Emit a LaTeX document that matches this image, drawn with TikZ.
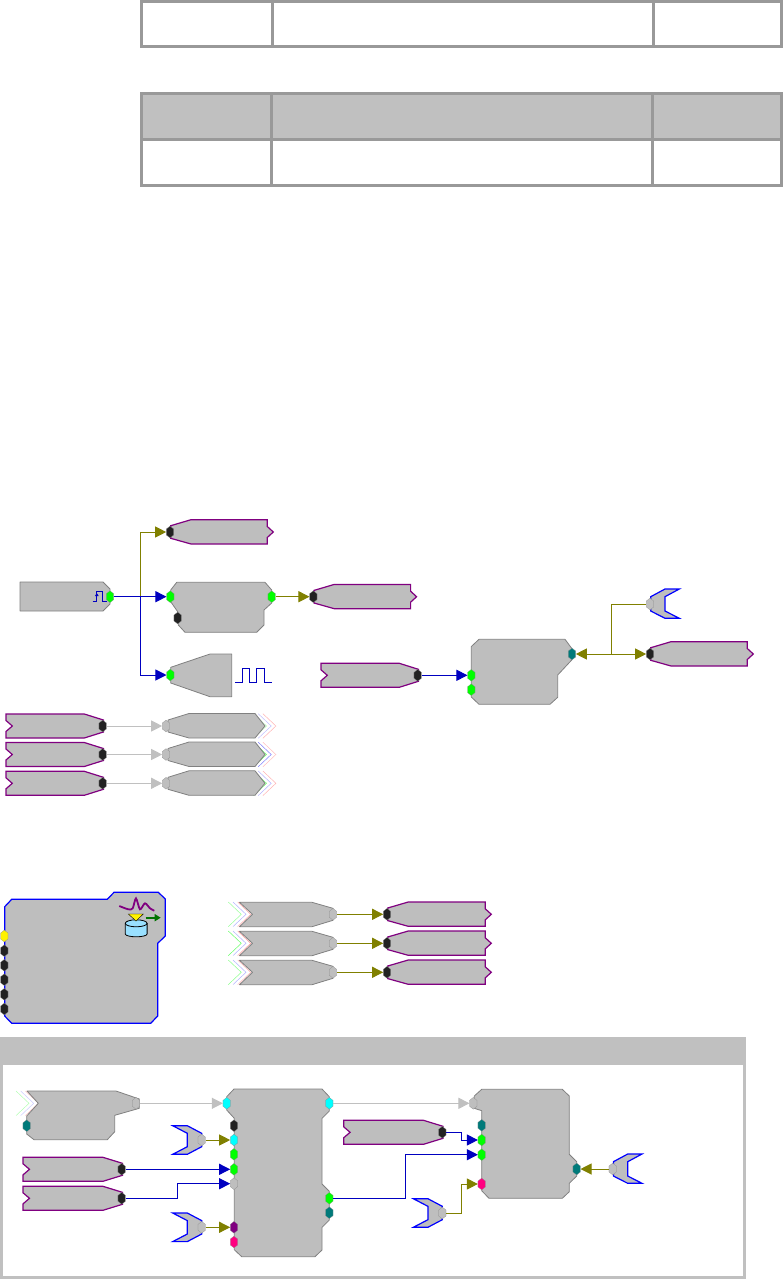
\documentclass[tikz,border=0pt]{standalone}
\usetikzlibrary{arrows.meta,shapes.geometric}
\definecolor{blockgray}{HTML}{BEBEBE}
\definecolor{rulegray}{HTML}{999999}
\definecolor{linegray}{HTML}{C0C0C0}
\definecolor{wireblue}{HTML}{0000C0}
\definecolor{wireolive}{HTML}{808000}
\definecolor{tagpurple}{HTML}{800080}
\definecolor{portblack}{HTML}{222222}
\definecolor{portteal}{HTML}{007A7A}
\definecolor{portpink}{HTML}{FF0080}
\definecolor{portcyan}{HTML}{00FFFF}
\definecolor{portgreen}{HTML}{00FF00}
\definecolor{hopblue}{HTML}{0000FF}
\begin{document}
\begin{tikzpicture}[x=1pt,y=-1pt]
    \tikzset{block/.style = {draw=black!50,fill=blockgray,line width=.8pt,line join=round},
      tagblock/.style = {draw=tagpurple,fill=blockgray,line width=1.2pt},
      hopblock/.style = {draw=hopblue,fill=blockgray,line width=1.2pt},
      cell/.style = {draw=rulegray,line width=3pt},
      port/.style = {shape = regular polygon,regular polygon sides=6,shape border rotate=90,minimum size = 10.5pt,inner sep = 0pt,xscale=.82,yscale=1.12,transform shape,draw=black!45,line width=.2pt},
      pgreen/.style = {port,fill=portgreen},
      pblack/.style = {port,fill=portblack},
      pgray/.style = {port,fill=blockgray},
      pteal/.style = {port,fill=portteal},
      pcyan/.style = {port,fill=portcyan},
      ppink/.style = {port,fill=portpink},
      wb/.style = {wireblue,line width=1pt,-{Triangle[length=11pt,width=11pt]}},
      wo/.style = {wireolive,line width=1pt,-{Triangle[length=11pt,width=11pt]}},
      wg/.style = {linegray,line width=1pt,-{Triangle[length=11pt,width=11pt]}},
      pics/tagout/.style = {code = {\draw[tagblock] (.7,-6.3) -- (21,-12.3) -- (97.3,-12.3) -- (97.3,-5.5) -- (103.3,0) -- (97.3,5.5) -- (97.3,12) -- (21,12) -- (.7,6.3) -- cycle;}},
      pics/tagin/.style = {code = {\draw[tagblock] (.7,-6) -- (-18.4,-12) -- (-96.7,-12) -- (-96.7,-5.5) -- (-90.4,0) -- (-96.7,5.5) -- (-96.7,12) -- (-18.4,12) -- (.7,6) -- cycle;}},
      pics/hopright/.style = {code = {\draw[hopblock] (.7,-7.3) -- (15,-15) -- (29.3,-15) -- (15,-7.3) -- (15,7) -- (29.3,14.3) -- (15,14.3) -- (.7,7) -- cycle;}},
      pics/hopleft/.style = {code = {\draw[hopblock] (0,-6.7) -- (-14.4,-14.3) -- (-29,-14.3) -- (-14.4,-6.7) -- (-14.4,6.7) -- (-29,14.3) -- (-14.4,14.3) -- (0,6.7) -- cycle;}},
      pics/storeout/.style = {code = {\draw[block] (2,-6) -- (23,-12.5) -- (89,-12.5) -- (99,0) -- (89,12) -- (23,12) -- (2,6) -- cycle;}},
      pics/storein/.style = {code = {\draw[block] (-93.5,-12) -- (-21,-12) -- (0,-6) -- (0,6) -- (-21,12.4) -- (-93.5,12.4) -- (-80.5,0) -- cycle;}},
      pics/chev/.style n args = {3}{code = {
        \draw[#1,line width=.5pt] (0,-12.3) -- (13,0) -- (0,12.3);
        \draw[#2,line width=.5pt] (4.7,-12.3) -- (17.7,0) -- (4.7,12.3);
        \draw[#3,line width=.5pt] (9.4,-12.3) -- (22.4,0) -- (9.4,12.3);}}}
    \useasboundingbox (0,0) rectangle (783,1279);
    % tables
    \draw[cell] (141.7,1.5) rectangle (781,46.8);
    \draw[cell] (272.5,1.5) -- (272.5,46.8);
    \draw[cell] (653.7,1.5) -- (653.7,46.8);
    \draw[cell,fill=linegray] (141.7,93.8) rectangle (781,139.3);
    \draw[cell] (141.7,139.3) rectangle (781,185.2);
    \draw[cell] (271.7,93.8) -- (271.7,185.2);
    \draw[cell] (652.5,93.8) -- (652.5,185.2);
    % upper part
    \draw[block] (20,582) -- (103,582) -- (110,589) -- (110,604) -- (103,611) -- (20,611) -- cycle;
    \draw[wireblue,line width=1pt] (92.7,601.3) -- (96,601.3) -- (96,591.3) -- (102.7,591.3) -- (102.7,601.3) -- (106.7,601.3);
    \draw[wireblue,line width=.8pt,-{Triangle[length=3pt,width=3.5pt]}] (96.8,598) -- (96.8,593);
    \pic at (170,532) {tagout};
    \draw[block] (170.7,590) -- (176.7,582.3) -- (265,582.3) -- (271.7,590) -- (271.7,603) -- (264,610) -- (264,625) -- (256.7,632.3) -- (185,632.3) -- (178.3,625) -- (177.7,611.7) -- (170.7,601.7) -- cycle;
    \draw[block] (170.7,667.3) -- (210,654) -- (231.7,654) -- (231.7,696.7) -- (210,696.7) -- (170.7,683) -- cycle;
    \draw[wireblue,line width=1pt] (235,682.3) -- (242,682.3) -- (242,668.7) -- (249.3,668.7) -- (249.3,682.3) -- (256.7,682.3) -- (256.7,668.7) -- (264,668.7) -- (264,682.3) -- (271.7,682.3);
    \pic at (313.3,596.7) {tagout};
    \pic at (417.7,675.3) {tagin};
    \draw[block] (471.3,646.5) -- (479,639.3) -- (565,639.3) -- (571.7,648.3) -- (571.7,660) -- (557.7,675) -- (557.7,697.3) -- (550,704.3) -- (479,704.3) -- (471.3,697) -- cycle;
    \pic at (650,604) {hopright};
    \pic at (650,654) {tagout};
    \foreach \y/\ca/\cb/\cc in {726/green!30/blue!25/red!30,754.5/green!60/blue!50/red!25,783.3/green!60/blue!30/red!30}{
      \pic at (102.7,\y) {tagin};
      \pic at (253.5,\y) {chev={\ca}{\cb}{\cc}};
      \pic at (166,\y) {storeout};
    }
    \node[pgreen] (srcout) at (110,596.7) {};
    \node[pblack] (logtag) at (170,532) {};
    \node[pgreen] (holdin) at (170.3,596.7) {};
    \node[pgreen] (holdout) at (271.7,596.7) {};
    \node[pblack] (holdrst) at (177.7,618) {};
    \node[pgreen] (gatein) at (170.3,675) {};
    \node[pblack] (holdtag) at (313.3,596.7) {};
    \node[pblack] (readtag) at (417.7,675.3) {};
    \node[pgreen] (mixa) at (471.3,675.3) {};
    \node[pgreen] (mixb) at (471.3,689.7) {};
    \node[pteal] (mixout) at (572,654) {};
    \node[pgray] (hopa) at (650,604) {};
    \node[pblack] (mixtag) at (650,654) {};
    \foreach \n/\y in {a/726,b/754.5,c/783.3}{
      \node[pblack] (inp\n) at (102.7,\y) {};
      \node[pgray] (dac\n) at (166,\y) {};
      \draw[wg](inp\n) --(dac\n);
    }
    \coordinate (forka) at (140.5,596.7);
    \coordinate (forkb) at (611.3,654);
    \draw[wo](forka) |- (logtag);
    \draw[wb](forka) |- (gatein);
    \draw[wb](srcout) --(holdin);
    \draw[wo](holdout) --(holdtag);
    \draw[wb](readtag) --(mixa);
    \draw[wo](forkb) --(mixout);
    \draw[wo](forkb) --(mixtag);
    \draw[wireolive,line width=1pt](forkb) |- (hopa);
    % recorder
    \draw[draw=hopblue,fill=blockgray,line width=1.2pt] (4.7,906.7) -- (11.7,899.3) -- (107.3,899.3) -- (114,892.3) -- (158.3,892.3) -- (165.3,899) -- (165.3,936) -- (157.7,943.3) -- (157.7,1016) -- (150.7,1023.3) -- (11.7,1023.3) -- (4.7,1016) -- cycle;
    \draw[tagpurple,line width=1.8pt] plot[smooth] coordinates {(119.3,906) (128.3,909.3) (132.7,908.3) (136,898.3) (140,909.3) (145,903.3) (150,908.3) (154.3,910.7)};
    \draw[black,fill=blue!30!cyan!40!white,line width=.8pt] (125.3,923.3) -- (125.3,934) arc[start angle=180,end angle=360,x radius=10.9pt,y radius=2.8pt] -- (147.1,923.3) arc[start angle=0,end angle=180,x radius=10.9pt,y radius=3.5pt];
    \draw[black,line width=.8pt] (125.3,923.3) arc[start angle=180,end angle=360,x radius=10.9pt,y radius=3.5pt];
    \draw[black,line width=.4pt,fill=yellow] (128.3,914) -- (143.3,914) -- (136,921) -- cycle;
    \draw[green!45!black,line width=2pt,-{Triangle[length=6pt,width=7pt]}] (145.7,917.7) -- (160.7,917.7);
    \node[port,fill=yellow] (recin) at (4.3,936) {};
    \foreach \n/\y in {a/950.7,b/965.3,c/979.7,d/994.3,e/1009}{
      \node[pblack] (rec\n) at (4.3,\y) {};
    }
    \foreach \n/\y/\ca/\cb/\cc in {a/914.3/green!40/blue!30/red!35,b/943.3/green!60/blue!30/red!40,c/972.3/green!45/blue!30/red!30}{
      \pic at (228.3,\y) {chev={\ca}{\cb}{\cc}};
      \pic at (333,\y) {storein};
      \pic[xscale=1.01] at (387,\y) {tagout};
      \node[pgray] (adc\n) at (333,\y) {};
      \node[pblack] (adctag\n) at (387,\y) {};
      \draw[wo](adc\n) --(adctag\n);
    }
    % lower panel
    \draw[linegray,line width=3pt] (1.5,1038.5) rectangle (744,1277);
    \fill[linegray] (0,1037.3) rectangle (745.5,1065);
    \pic at (16,1103.3) {chev={green!30}{blue!20}{red!25}};
    \draw[block] (27,1091) -- (116,1091) -- (139.3,1099) -- (139.3,1108.3) -- (114.7,1115.3) -- (114.7,1131.7) -- (107.3,1139.7) -- (34,1139.7) -- (26.7,1134) -- (26.7,1116) -- (38.3,1103.3) -- cycle;
    \pic[xscale=1.02] at (121.7,1169.3) {tagin};
    \pic[xscale=1.02] at (121.7,1198.3) {tagin};
    \pic at (201.7,1140) {hopleft};
    \pic at (201.7,1227.3) {hopleft};
    \draw[block] (234,1089) -- (322,1089) -- (329.3,1096.7) -- (329.3,1111) -- (322,1118.3) -- (322,1184) -- (329.3,1191.3) -- (329.3,1220) -- (322,1227.3) -- (322,1250) -- (315,1256.7) -- (241.7,1256.7) -- (234.3,1249.7) -- (234.3,1118.3) -- (226.7,1110) -- (226.7,1096.7) -- cycle;
    \pic[xscale=1.02] at (442.3,1132.3) {tagin};
    \pic at (442.3,1213) {hopleft};
    \draw[block] (481.7,1089.3) -- (562.3,1089.3) -- (569.3,1096) -- (569.3,1154.3) -- (576.7,1161.7) -- (576.7,1176) -- (569.3,1183.3) -- (569.3,1191.7) -- (562.3,1198.3) -- (489,1198.3) -- (481.7,1190.7) -- (481.7,1110.7) -- (474.3,1108.3) -- (474.3,1096) -- cycle;
    \pic at (612.7,1169) {hopright};
    \node[pgray] (envout) at (136,1103.3) {};
    \node[pteal] (envctl) at (26.7,1125.7) {};
    \node[pcyan] (ampin) at (226.7,1103.3) {};
    \node[pblack] (ampa) at (234,1125.7) {};
    \node[pcyan] (ampb) at (234,1140) {};
    \node[pgreen] (ampc) at (234,1154.3) {};
    \node[pgreen] (ampd) at (234,1169.3) {};
    \node[pgray] (ampe) at (234,1183.7) {};
    \node[port,fill=tagpurple] (ampf) at (234,1227.3) {};
    \node[ppink] (ampg) at (234,1242) {};
    \node[pcyan] (ampout) at (329.3,1103.3) {};
    \node[pgreen] (ampsw) at (329.3,1198.3) {};
    \node[pteal] (ampclk) at (329.3,1212.7) {};
    \node[pgray] (hopb) at (201.7,1140) {};
    \node[pgray] (hopc) at (201.7,1227.3) {};
    \node[pblack] (gaintag) at (121.7,1169.3) {};
    \node[pblack] (widthtag) at (121.7,1198.3) {};
    \node[pblack] (trigtag) at (442.3,1132.3) {};
    \node[pgray] (hopd) at (442.3,1213) {};
    \node[pgray] (hope) at (612.7,1169) {};
    \node[pgray] (outa) at (473.3,1103.3) {};
    \node[pteal] (outb) at (481.7,1125.3) {};
    \node[pgreen] (outc) at (481.7,1140) {};
    \node[pgreen] (outd) at (481.7,1154.7) {};
    \node[ppink] (oute) at (481.7,1184) {};
    \node[pteal] (outf) at (576.7,1169) {};
    \coordinate (benda) at (177.3,1190);
    \coordinate (bendb) at (461.7,1136);
    \coordinate (bendc) at (405.7,1180);
    \coordinate (bendd) at (461.7,1200);
    \draw[wg](envout) --(ampin);
    \draw[wo](hopb) --(ampb);
    \draw[wb](gaintag) --(ampd);
    \draw[wb](widthtag) -| (benda) |- (ampe);
    \draw[wo](hopc) --(ampf);
    \draw[wg](ampout) --(outa);
    \draw[wb](trigtag) -| (bendb) |- (outc);
    \draw[wb](ampsw) -| (bendc) |- (outd);
    \draw[wo](hopd) -| (bendd) |- (oute);
    \draw[wo](hope) --(outf);
\end{tikzpicture}
\end{document}
